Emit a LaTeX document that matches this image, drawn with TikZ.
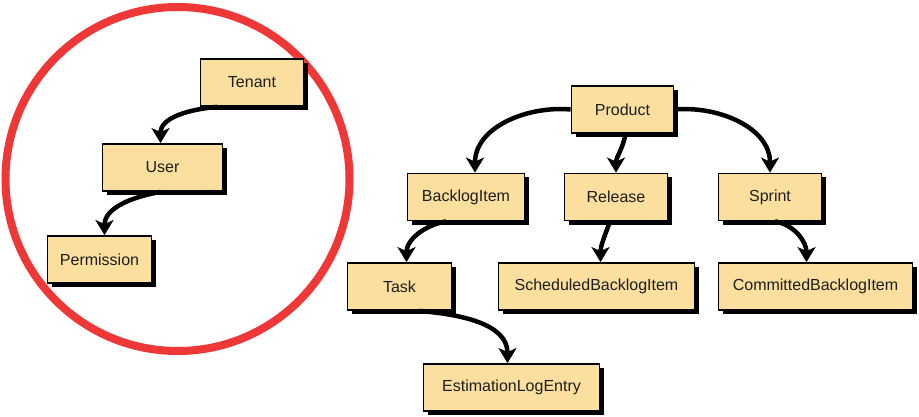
\documentclass[tikz,border=0pt]{standalone}
\usepackage{fontspec}
\setmainfont{Liberation Sans}
\usetikzlibrary{arrows.meta,shadows}

\definecolor{boxfill}{RGB}{250,223,158}
\definecolor{ringred}{RGB}{238,56,56}
\definecolor{ink}{RGB}{30,30,30}

\tikzset{entity/.style={draw=black,line width=1.8pt,fill=boxfill,minimum height=47pt,
           text=ink,font=\fontsize{16}{19}\selectfont,
           drop shadow={opacity=1,fill=black,shadow xshift=4pt,shadow yshift=-4pt}},
         link/.style={line width=4.5pt,-{Stealth[length=15pt,width=18pt,inset=4pt]}}}

\begin{document}
\begin{tikzpicture}[x=1pt,y=-1pt]
                  \useasboundingbox (0,0) rectangle (919,417);
                  \draw[ringred,line width=8pt] (177.5,179) circle (172);
                  \node[entity,minimum width=103pt] (tenant) at (252,82.5) {Tenant};
                  \node[entity,minimum width=120pt] (user) at (162.5,167.5) {User};
                  \node[entity,minimum width=104pt] (permission) at (99.5,259.5) {Permission};
                  \node[entity,minimum width=102pt] (product) at (622.5,109.5) {Product};
                  \node[entity,minimum width=117pt] (backlogitem) at (466,197) {BacklogItem};
                  \node[entity,minimum width=103pt] (release) at (616,197) {Release};
                  \node[entity,minimum width=103pt] (sprint) at (770,197) {Sprint};
                  \node[entity,minimum width=104pt] (task) at (399.5,286.5) {Task};
                  \node[entity,minimum width=196pt] (scheduled) at (596.5,286.5) {ScheduledBacklogItem};
                  \node[entity,minimum width=194pt] (committed) at (815.5,286.5) {CommittedBacklogItem};
                  \node[entity,minimum width=176pt] (estimation) at (511.5,387.5) {EstimationLogEntry};
                  \draw[link] ([xshift=-35pt]tenant.south) to[out=185,in=90] ([xshift=-2pt]user.north);
                  \draw[link] ([xshift=-2pt]user.south) to[out=190,in=90] ([xshift=5pt]permission.north);
                  \draw[link] (product.west) to[out=175,in=90] ([xshift=9pt]backlogitem.north);
                  \draw[link] ([xshift=3pt]product.south) to[out=-100,in=90] (release.north);
                  \draw[link] (product.east) to[out=5,in=90] (sprint.north);
                  \draw[link] ([xshift=-20pt]backlogitem.south) to[out=190,in=90] ([xshift=7pt]task.north);
                  \draw[link] ([xshift=-6pt]release.south) to[out=-110,in=90] ([xshift=4pt]scheduled.north);
                  \draw[link] ([xshift=5pt]sprint.south) to[out=-10,in=90] ([xshift=-9pt]committed.north);
                  \draw[link] ([xshift=20pt]task.south) to[out=-5,in=90] ([xshift=-4pt]estimation.north);
              \end{tikzpicture}
\end{document}
